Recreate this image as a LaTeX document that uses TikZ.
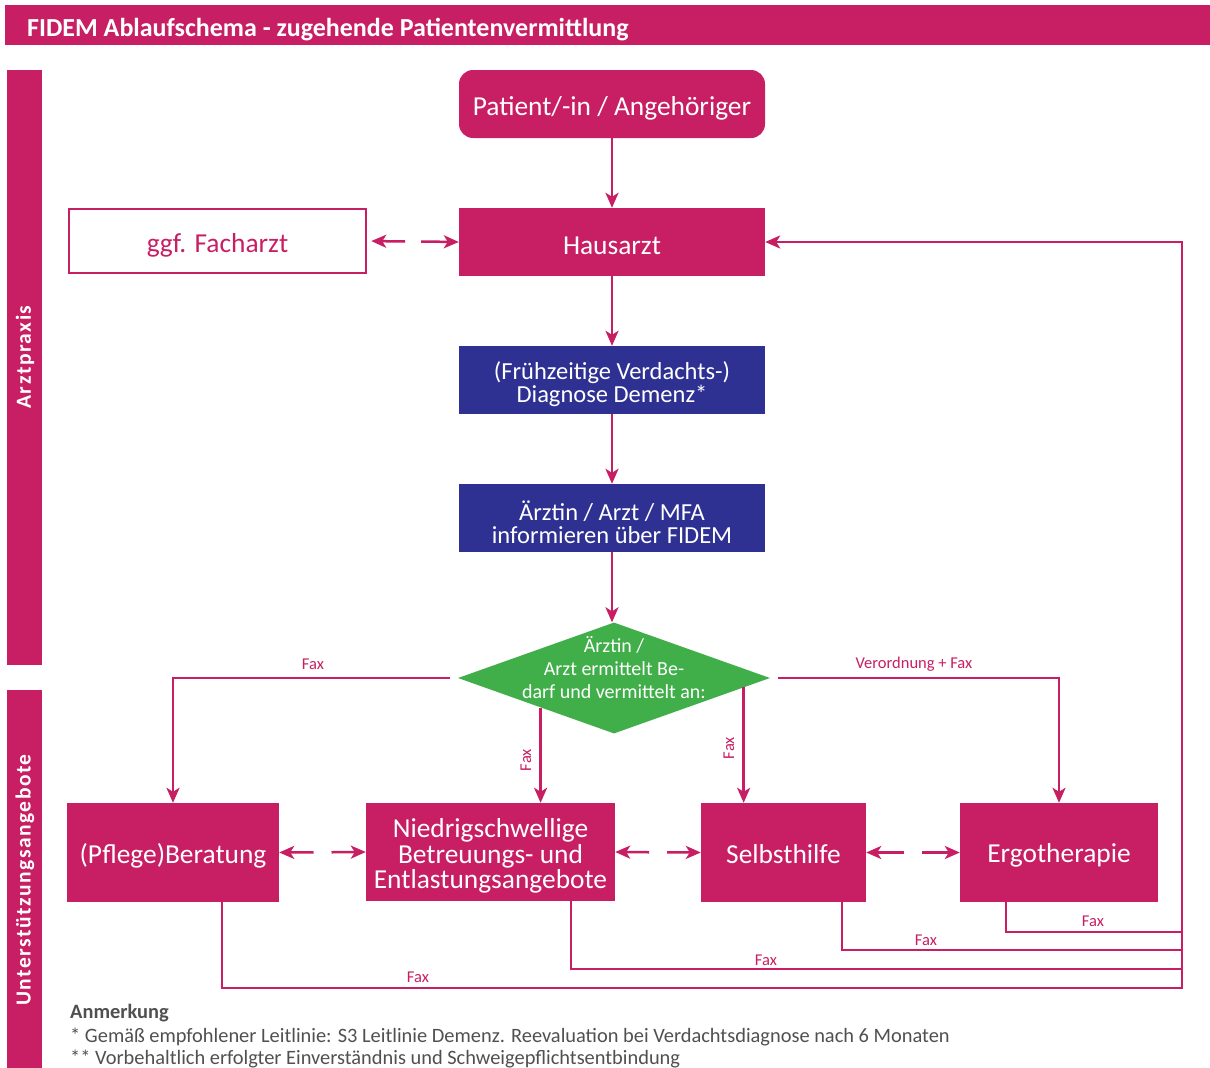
\documentclass[tikz,border=0pt]{standalone}
\usepackage{fontspec}
\setmainfont{Carlito}
\usetikzlibrary{shapes.geometric,arrows.meta,calc}
\definecolor{mag}{RGB}{200,30,99}
\definecolor{dblue}{RGB}{46,49,146}
\definecolor{dgreen}{RGB}{64,174,73}
\definecolor{ngray}{RGB}{80,80,80}
\tikzset{
  box/.style={fill=#1, inner sep=0pt},
  box/.default=mag,
  btext/.style={text=white, inner sep=0pt, align=center, font=\fontsize{27.4}{30}\selectfont},
  conn/.style={draw=mag, line width=2.5pt, -{Stealth[length=15pt,width=13pt,inset=4pt]}},
  plain/.style={draw=mag, line width=2.5pt},
  lab/.style={text=mag, font=\fontsize{16.5}{18}\selectfont, inner sep=0pt},
  bartext/.style={text=white, rotate=90, font=\bfseries\fontsize{21.5}{24}\selectfont\addfontfeatures{LetterSpace=7}},
  note/.style={anchor=west, text=ngray, inner sep=0pt, font=\fontsize{20.4}{23}\selectfont}
}
\begin{document}
\begin{tikzpicture}[x=1pt,y=-1pt]
\useasboundingbox (0,0) rectangle (1210,1068);
\fill[white] (0,0) rectangle (1210,1068);
% title
\fill[mag] (5,5) rectangle (1210,45);
\node[anchor=west, text=white, inner sep=0pt, font=\bfseries\fontsize{26}{30}\selectfont] (title) at (27,30) {FIDEM Ablaufschema - zugehende Patientenvermittlung};
% side bars
\fill[mag] (7,70) rectangle (42,665);
\node[bartext] (bar1) at (25,357) {Arztpraxis};
\fill[mag] (7,690) rectangle (42,1068);
\node[bartext] (bar2) at (25,880) {Unterstützungsangebote};
% nodes
\node[box, minimum width=306pt, minimum height=68pt, rounded corners=14pt] (pat) at (612,104) {};
\node[btext] (patt) at ([yshift=-4pt]pat.center) {Patient/-in / Angehöriger};
\node[box, minimum width=306pt, minimum height=68pt] (haus) at (612,242) {};
\node[btext] (haust) at ([yshift=-4pt]haus.center) {Hausarzt};
\node[draw=mag, line width=2.5pt, fill=white, inner sep=0pt, minimum width=297pt, minimum height=64pt] (fach) at (217.5,241) {};
\node[btext, text=mag] (facht) at ([yshift=-4pt]fach.center) {ggf. Facharzt};
\node[box=dblue, minimum width=306pt, minimum height=68pt] (diag) at (612,380) {};
\node[btext, font=\fontsize{24.5}{23}\selectfont] (diagt) at ([yshift=-4pt]diag.center) {(Frühzeitige Verdachts-)\\Diagnose Demenz*};
\node[box=dblue, minimum width=306pt, minimum height=68pt] (mfa) at (612,518) {};
\node[btext, font=\fontsize{24.5}{23}\selectfont] (mfat) at ([yshift=-4pt]mfa.center) {Ärztin / Arzt / MFA\\informieren über FIDEM};
\node[diamond, fill=dgreen, inner sep=0pt, minimum width=312pt, minimum height=111pt] (dia) at (614,678) {};
\node[btext, font=\fontsize{20}{23}\selectfont] (diat) at (614,668) {Ärztin /\\Arzt ermittelt Be-\\darf und vermittelt an:};
\node[box, minimum width=212pt, minimum height=99pt] (ber) at (173,852.5) {};
\node[btext] (bert) at ([yshift=-3pt]ber.center) {(Pflege)Beratung};
\node[box, minimum width=249pt, minimum height=98pt] (nied) at (490.5,852) {};
\node[btext, font=\fontsize{27.4}{25.5}\selectfont] (niedt) at ([yshift=-4pt]nied.center) {Niedrigschwellige\\Betreuungs- und\\Entlastungsangebote};
\node[box, minimum width=165pt, minimum height=99pt] (selb) at (783.5,852.5) {};
\node[btext] (selbt) at ([yshift=-2pt]selb.center) {Selbsthilfe};
\node[box, minimum width=198pt, minimum height=99pt] (ergo) at (1059,852.5) {};
\node[btext] (ergot) at ([yshift=-3pt]ergo.center) {Ergotherapie};
% main flow
\draw[conn] (pat) -- (haus);
\draw[conn] (haus) -- (diag);
\draw[conn] (diag) -- (mfa);
\draw[conn] (mfa.south) -- (mfa.south |- dia.north);
% facharzt double arrow
\draw[conn, shorten >=4pt] ($(fach.east)!0.5!(haus.west)+(-8,0)$) -- (fach.east);
\draw[conn] ($(fach.east)!0.5!(haus.west)+(8,0)$) -- (haus.west);
% branches from diamond
\draw[conn] ($(dia.west)+(-8,0)$) -| (ber.north);
\node[lab] (l1) at (313,664) {Fax};
\draw[conn] ($(dia.east)+(8,0)$) -| (ergo.north);
\node[lab] (l2) at (914,664) {Verordnung + Fax};
\coordinate (p1) at ($(dia.west)!0.53!(dia.south)$);
\draw[conn] (p1) -- (p1 |- nied.north);
\node[lab, rotate=90] (l3) at (526,760) {Fax};
\coordinate (p2) at ($(dia.east)!0.17!(dia.south)$);
\draw[conn] (p2) -- (p2 |- selb.north);
\node[lab, rotate=90] (l4) at (729,748) {Fax};
% dashed double arrows between bottom boxes
\draw[conn] ($(ber.east)!0.5!(nied.west)+(-9,0)$) -- (ber.east);
\draw[conn] ($(ber.east)!0.5!(nied.west)+(9,0)$) -- (nied.west);
\draw[conn] ($(nied.east)!0.5!(selb.west)+(-9,0)$) -- (nied.east);
\draw[conn] ($(nied.east)!0.5!(selb.west)+(9,0)$) -- (selb.west);
\draw[conn] ($(selb.east)!0.5!(ergo.west)+(-9,0)$) -- (selb.east);
\draw[conn] ($(selb.east)!0.5!(ergo.west)+(9,0)$) -- (ergo.west);
% return lines
\coordinate (r1) at (1182,932);
\coordinate (r2) at (1182,950);
\coordinate (r3) at (1182,969);
\coordinate (r4) at (1182,988);
\draw[plain] ($(ergo.south west)+(46,0)$) |- (r1);
\draw[plain] ($(selb.south west)+(141,0)$) |- (r2);
\draw[plain] ($(nied.south west)+(205,0)$) |- (r3);
\draw[conn] ($(ber.south west)+(155,0)$) |- (r4) |- (haus.east);
\node[lab] (f1) at (1093,921) {Fax};
\node[lab] (f2) at (926,940) {Fax};
\node[lab] (f3) at (766,960) {Fax};
\node[lab] (f4) at (418,977) {Fax};
% notes
\node[note, font=\bfseries\fontsize{20.4}{23}\selectfont] (n0) at (70,1013.5) {Anmerkung};
\node[note] (n1) at (70,1036.5) {* Gemäß empfohlener Leitlinie: S3 Leitlinie Demenz. Reevaluation bei Verdachtsdiagnose nach 6 Monaten};
\node[note] (n2) at (70,1059) {** Vorbehaltlich erfolgter Einverständnis und Schweigepflichtsentbindung};
\end{tikzpicture}
\end{document}
